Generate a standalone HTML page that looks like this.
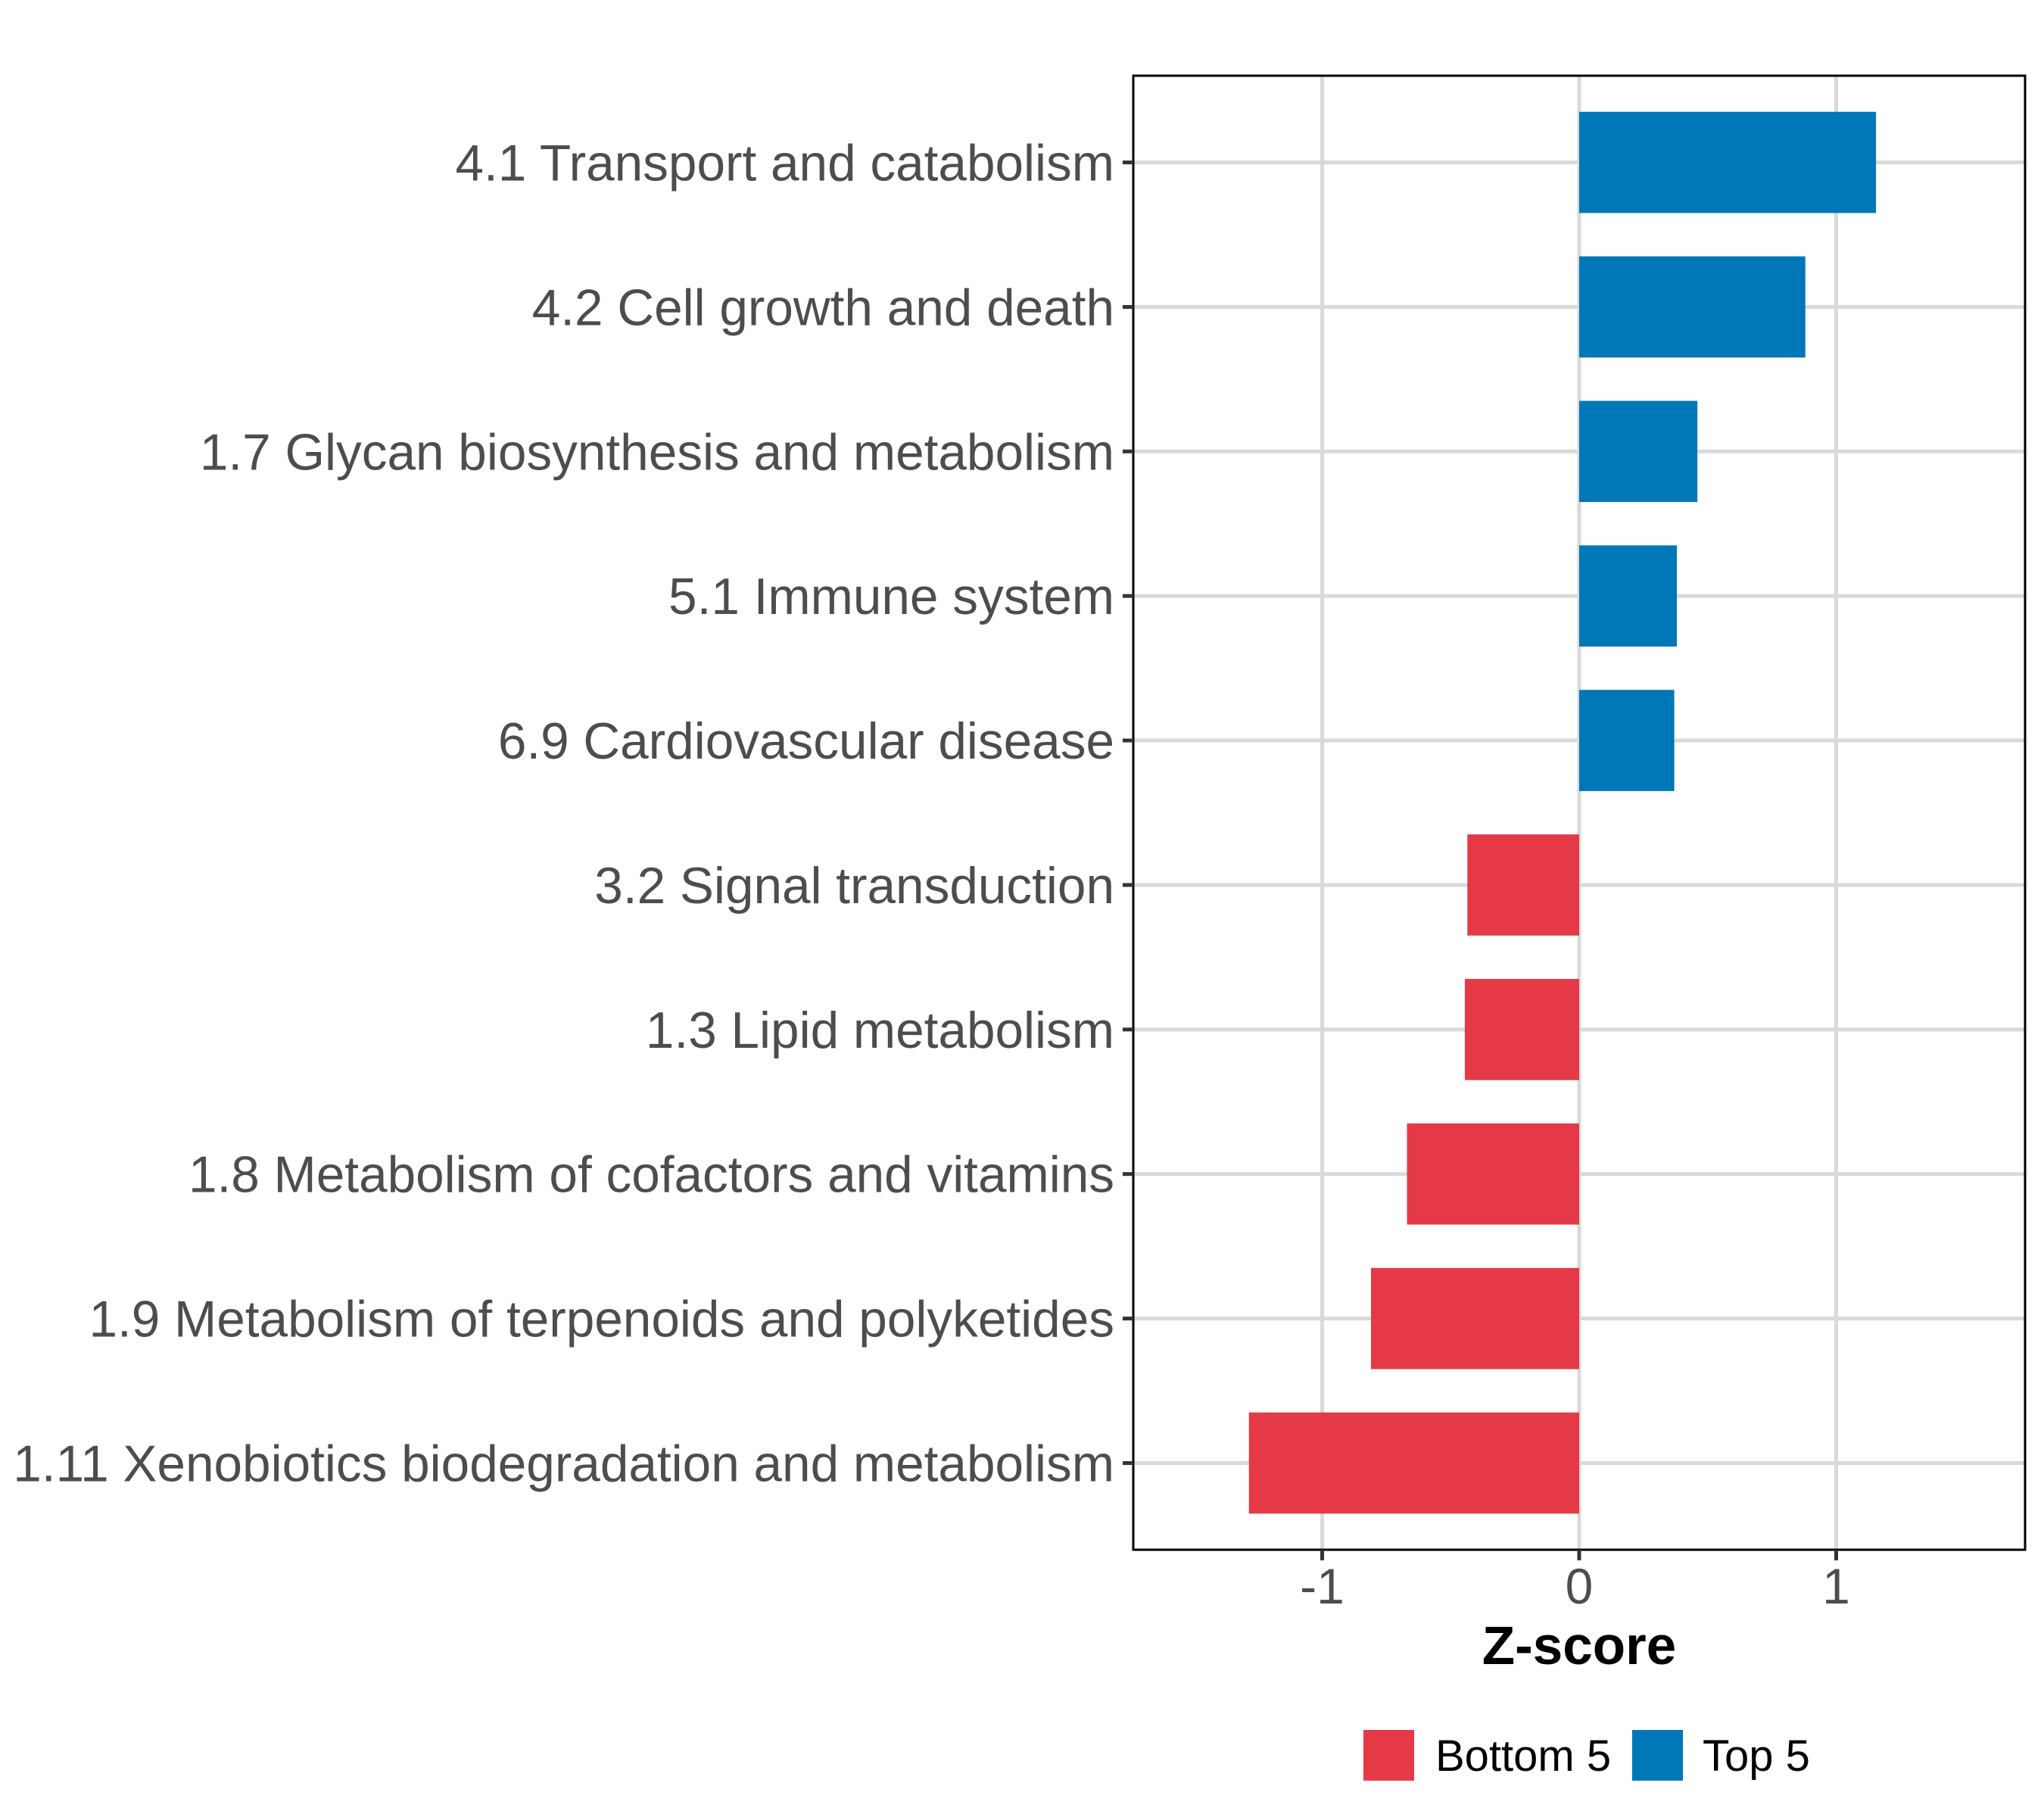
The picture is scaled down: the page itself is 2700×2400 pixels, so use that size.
<!DOCTYPE html>
<html><head><meta charset="utf-8"><style>
html,body{margin:0;padding:0;background:#fff;}
svg{display:block;font-family:"Liberation Sans",Arial,sans-serif;}
</style></head><body>
<svg id="chart" width="2700" height="2400" viewBox="0 0 2700 2400"></svg>
<script>
const categories = ["4.1 Transport and catabolism","4.2 Cell growth and death","1.7 Glycan biosynthesis and metabolism","5.1 Immune system","6.9 Cardiovascular disease","3.2 Signal transduction","1.3 Lipid metabolism","1.8 Metabolism of cofactors and vitamins","1.9 Metabolism of terpenoids and polyketides","1.11 Xenobiotics biodegradation and metabolism"];
const zscores = [1.155, 0.88, 0.46, 0.38, 0.37, -0.435, -0.445, -0.67, -0.81, -1.285];
const groups = ["Top 5","Top 5","Top 5","Top 5","Top 5","Bottom 5","Bottom 5","Bottom 5","Bottom 5","Bottom 5"];
const xTicks = [-1, 0, 1];
const xTickLabels = ["-1","0","1"];
const legendLabels = ["Bottom 5","Top 5"];

const NS="http://www.w3.org/2000/svg";
const svg=document.getElementById('chart');
const L=1497,R=2675,T=100,B=2047;
const xMin=-1.735,xMax=1.735;
const colors={"Bottom 5":"#E63946","Top 5":"#0077B6"};
function xs(v){return L+(v-xMin)/(xMax-xMin)*(R-L);}
const unit=(B-T)/(categories.length+0.2);
function yc(i){return T+(i+0.6)*unit;}
function mk(tag,attrs){const e=document.createElementNS(NS,tag);for(const k in attrs)e.setAttribute(k,attrs[k]);svg.appendChild(e);return e;}

xTicks.forEach(function(t){
  const g=mk('line',{x1:xs(t),x2:xs(t),y1:T,y2:B,stroke:'#d9d9d9','stroke-width':5});
  
  
});
categories.forEach(function(c,i){
  const g=mk('line',{x1:L,x2:R,y1:yc(i),y2:yc(i),stroke:'#d9d9d9','stroke-width':5});
  
  
});
zscores.forEach(function(v,i){
  const x0=Math.min(xs(0),xs(v)),w=Math.abs(xs(v)-xs(0));
  const r=mk('rect',{x:x0,y:yc(i)-0.35*unit,width:w,height:0.7*unit,fill:colors[groups[i]]});
  
  
});
const bd=mk('rect',{x:L,y:T,width:R-L,height:B-T,fill:'none',stroke:'#000','stroke-width':3});


categories.forEach(function(c,i){
  const tk=mk('line',{x1:L-14,x2:L,y1:yc(i),y2:yc(i),stroke:'#333','stroke-width':5});
  
  
  const t=mk('text',{x:1472,y:yc(i)+24,'text-anchor':'end','font-size':67.5,fill:'#4d4d4d'});
  t.textContent=c;
  
  
});
xTicks.forEach(function(v,i){
  const tk=mk('line',{x1:xs(v),x2:xs(v),y1:B,y2:B+14,stroke:'#333','stroke-width':5});
  
  
  const t=mk('text',{x:xs(v),y:2118,'text-anchor':'middle','font-size':66,fill:'#4d4d4d'});
  t.textContent=xTickLabels[i];
  
  
});
const xt=mk('text',{x:xs(0),y:2198,'text-anchor':'middle','font-size':71,'font-weight':'bold',fill:'#000'});
xt.textContent='Z-score';


const keyX=[1801,2156],textX=[1896,2249];
legendLabels.forEach(function(lab,i){
  const k=mk('rect',{x:keyX[i],y:2285,width:67,height:67,fill:colors[lab]});
  
  
  const t=mk('text',{x:textX[i],y:2339,'font-size':58,fill:'#000'});
  t.textContent=lab;
  
  
});
</script>
</body></html>
